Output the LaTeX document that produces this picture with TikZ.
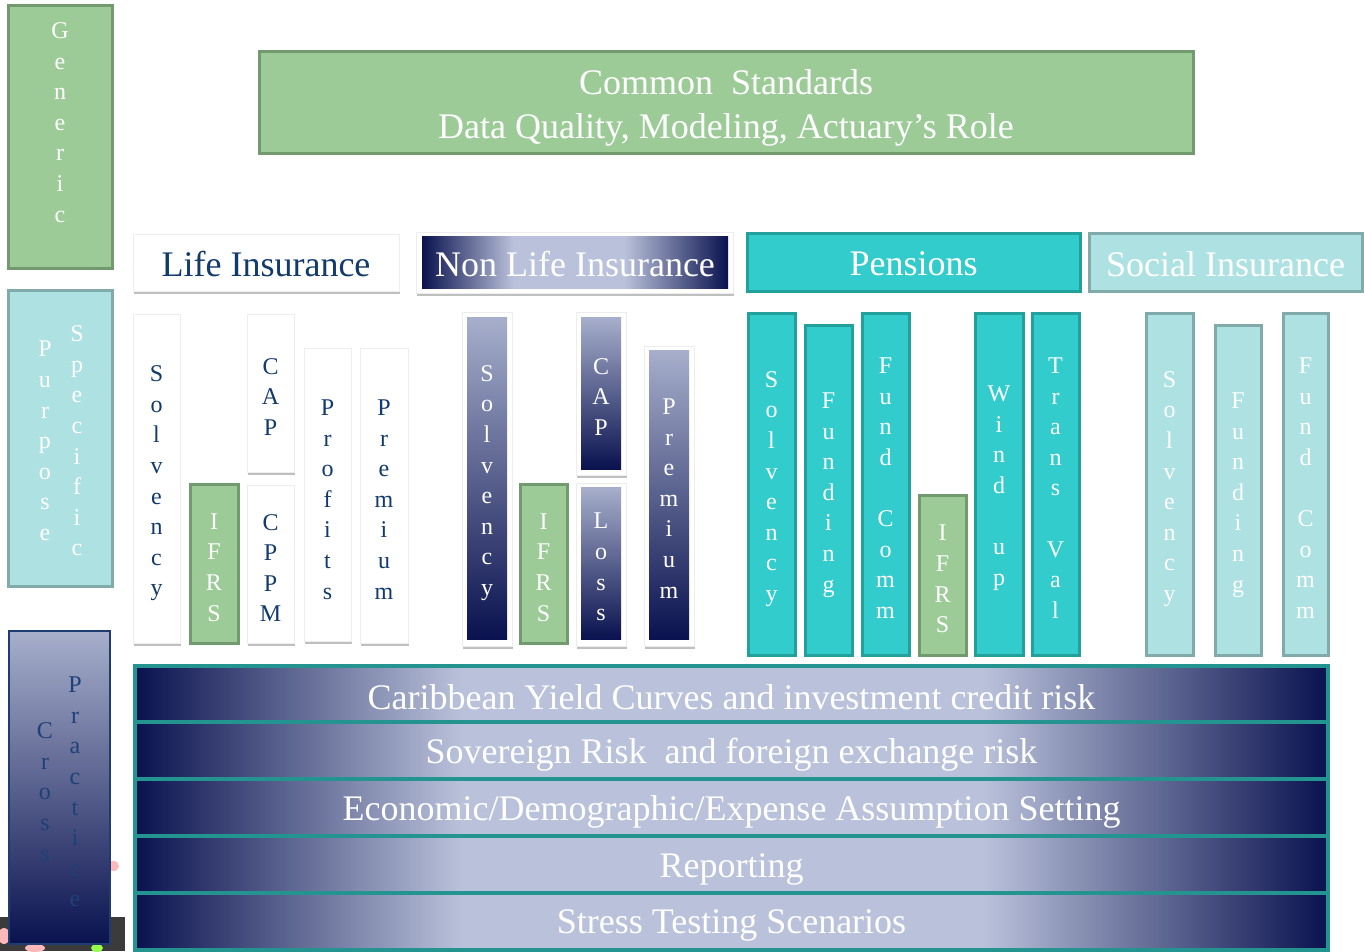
\documentclass[tikz,border=0pt]{standalone}
\usepackage{fontspec}
\setmainfont{Liberation Serif}
\usetikzlibrary{shadows}
\definecolor{gF}{HTML}{9CCB98}
\definecolor{gD}{HTML}{739A6E}
\definecolor{tF}{HTML}{33CCCC}
\definecolor{tD}{HTML}{22A09C}
\definecolor{lF}{HTML}{AEE1E1}
\definecolor{lD}{HTML}{80ABAA}
\definecolor{navyT}{HTML}{123A6C}
\definecolor{dkB}{HTML}{0A124F}
\definecolor{ltB}{HTML}{BAC2DB}
\definecolor{topB}{HTML}{A7AFCC}
\definecolor{crossD}{HTML}{1F3C70}
\definecolor{crossT}{HTML}{1E4078}
\definecolor{bandD}{HTML}{23948F}
\pgfdeclarehorizontalshading{bandsh}{100bp}{color(0bp)=(dkB); color(25bp)=(dkB); color(38.75bp)=(ltB); color(60.5bp)=(ltB); color(75bp)=(dkB); color(100bp)=(dkB)}
\pgfdeclarehorizontalshading{nlsh}{100bp}{color(0bp)=(dkB); color(25bp)=(dkB); color(40bp)=(ltB); color(58bp)=(ltB); color(75bp)=(dkB); color(100bp)=(dkB)}
% \bx{box style}{text style}{name}{x1}{y1}{x2}{y2}{text offset}{text}
\newcommand\bx[9]{\pgfmathsetmacro\bxcx{(#4+#6)/2}\pgfmathsetmacro\bxcy{(#5+#7)/2}\pgfmathsetmacro\bxty{(#5+#7)/2+#8}\pgfmathsetmacro\bxw{#6-#4}\pgfmathsetmacro\bxh{#7-#5}\node[#1,minimum width=\bxw pt,minimum height=\bxh pt] (#3) at (\bxcx,\bxcy) {};\node[#2] (#3t) at (\bxcx,\bxty) {#9};}
\begin{document}
\begin{tikzpicture}[x=1pt,y=-1pt,
  every node/.style={inner sep=0pt,outer sep=0pt},
  vt/.style={font=\fontsize{24}{30.6}\selectfont,align=center},
  hd/.style={font=\fontsize{36}{44}\selectfont,align=center},
  greenbox/.style={fill=gF,draw=gD,line width=3pt},
  tealbox/.style={fill=tF,draw=tD,line width=3pt},
  ltbox/.style={fill=lF,draw=lD,line width=3pt},
  whitebox/.style={fill=white,draw=black!7,line width=0.6pt,drop shadow={shadow xshift=1pt,shadow yshift=-3pt,fill=black!45,opacity=0.55}},
  navybox/.style={top color=topB,bottom color=dkB},
  bandbox/.style={shading=bandsh,draw=bandD,line width=3.5pt},
  wv/.style={vt,text=white},
  nv/.style={vt,text=navyT},
  wh/.style={hd,text=white}]
\useasboundingbox (0,0) rectangle (1364,951);
\fill[white] (0,0) rectangle (1364,951);
% bottom-left picture fragment
\fill[black!77] (0,917) rectangle (125,951);
\fill[pink!80!red!70] (113,866) ellipse (6 and 5);
\fill[pink!80!red!70] (4,936) ellipse (6 and 8);
\fill[pink!80!red!70] (35,948) ellipse (10 and 4);
\fill[green!60!yellow!70] (97,948) ellipse (6 and 4);
% left category boxes
\bx{greenbox}{wv}{generic}{8}{5}{112}{268}{-14}{G\\e\\n\\e\\r\\i\\c}
\bx{ltbox}{wv}{purpose}{8}{290}{112}{586}{3}{}
\node[wv] (purT) at (45,441) {P\\u\\r\\p\\o\\s\\e};
\node[wv] (speT) at (77,441) {S\\p\\e\\c\\i\\f\\i\\c};
\bx{navybox,draw=crossD,line width=2pt}{vt}{cross}{9}{631}{110}{944}{0}{}
\node[vt,text=crossT] (croT) at (45,792) {C\\r\\o\\s\\s};
\node[vt,text=crossT] (praT) at (75,792) {P\\r\\a\\c\\t\\i\\c\\e};
% common standards
\bx{greenbox}{wh}{common}{259}{51}{1193}{153}{6}{Common\ \ Standards\\Data Quality, Modeling, Actuary’s Role}
% headers
\bx{whitebox}{hd,text=navyT}{life}{133}{234}{399}{291}{1}{Life Insurance}
\bx{whitebox}{wh}{nonlifeO}{416}{232}{733}{293}{0}{}
\bx{shading=nlsh}{wh}{nonlife}{422}{236}{728}{288}{1.5}{Non Life Insurance}
\bx{tealbox}{wh}{pensions}{747}{233}{1080}{291}{2}{Pensions}
\bx{ltbox}{wh}{social}{1089}{233}{1362}{291}{2}{Social Insurance}
% life columns
\bx{whitebox}{nv}{lS}{133}{314}{180}{643}{5}{S\\o\\l\\v\\e\\n\\c\\y}
\bx{greenbox}{wv}{lI}{190}{484}{238}{643}{4}{I\\F\\R\\S}
\bx{whitebox}{nv}{lC}{247}{314}{294}{472}{4}{C\\A\\P}
\bx{whitebox}{nv}{lM}{247}{485}{294}{643}{4}{C\\P\\P\\M}
\bx{whitebox}{nv}{lP}{304}{348}{351}{641}{5}{P\\r\\o\\f\\i\\t\\s}
\bx{whitebox}{nv}{lR}{360}{348}{408}{643}{4}{P\\r\\e\\m\\i\\u\\m}
% non life columns
\bx{whitebox}{wv}{nSo}{462}{312}{512}{646}{0}{}
\bx{navybox}{wv}{nS}{467}{317}{507}{639}{5}{S\\o\\l\\v\\e\\n\\c\\y}
\bx{greenbox}{wv}{nI}{520}{484}{567}{643}{4}{I\\F\\R\\S}
\bx{whitebox}{wv}{nCo}{576}{312}{626}{475}{0}{}
\bx{navybox}{wv}{nC}{581}{317}{621}{469}{4}{C\\A\\P}
\bx{whitebox}{wv}{nLo}{576}{483}{626}{646}{0}{}
\bx{navybox}{wv}{nL}{581}{487}{621}{639}{4}{L\\o\\s\\s}
\bx{whitebox}{wv}{nPo}{644}{346}{694}{646}{0}{}
\bx{navybox}{wv}{nP}{649}{350}{689}{639}{4}{P\\r\\e\\m\\i\\u\\m}
% pension columns
\bx{tealbox}{wv}{pS}{748}{313}{795}{655}{5}{S\\o\\l\\v\\e\\n\\c\\y}
\bx{tealbox}{wv}{pF}{805}{325}{852}{655}{5}{F\\u\\n\\d\\i\\n\\g}
\bx{tealbox}{wv}{pC}{862}{313}{909}{655}{4}{F\\u\\n\\d\\~\\C\\o\\m\\m}
\bx{greenbox}{wv}{pI}{919}{495}{966}{655}{4}{I\\F\\R\\S}
\bx{tealbox}{wv}{pW}{975}{313}{1023}{655}{4}{W\\i\\n\\d\\~\\u\\p}
\bx{tealbox}{wv}{pT}{1032}{313}{1079}{655}{4}{T\\r\\a\\n\\s\\~\\V\\a\\l}
% social columns
\bx{ltbox}{wv}{sS}{1146}{313}{1193}{655}{5}{S\\o\\l\\v\\e\\n\\c\\y}
\bx{ltbox}{wv}{sF}{1215}{325}{1261}{655}{5}{F\\u\\n\\d\\i\\n\\g}
\bx{ltbox}{wv}{sC}{1283}{313}{1328}{655}{4}{F\\u\\n\\d\\~\\C\\o\\m\\m}
% cross practice bands
\bx{bandbox}{wh}{b1}{135}{666}{1328}{722}{3}{Caribbean Yield Curves and investment credit risk}
\bx{bandbox}{wh}{b2}{135}{722}{1328}{779}{4}{Sovereign Risk\ \ and foreign exchange risk}
\bx{bandbox}{wh}{b3}{135}{779}{1328}{836}{4}{Economic/Demographic/Expense Assumption Setting}
\bx{bandbox}{wh}{b4}{135}{836}{1328}{893}{5}{Reporting}
\bx{bandbox}{wh}{b5}{135}{893}{1328}{950}{4}{Stress Testing Scenarios}
\end{tikzpicture}
\end{document}
